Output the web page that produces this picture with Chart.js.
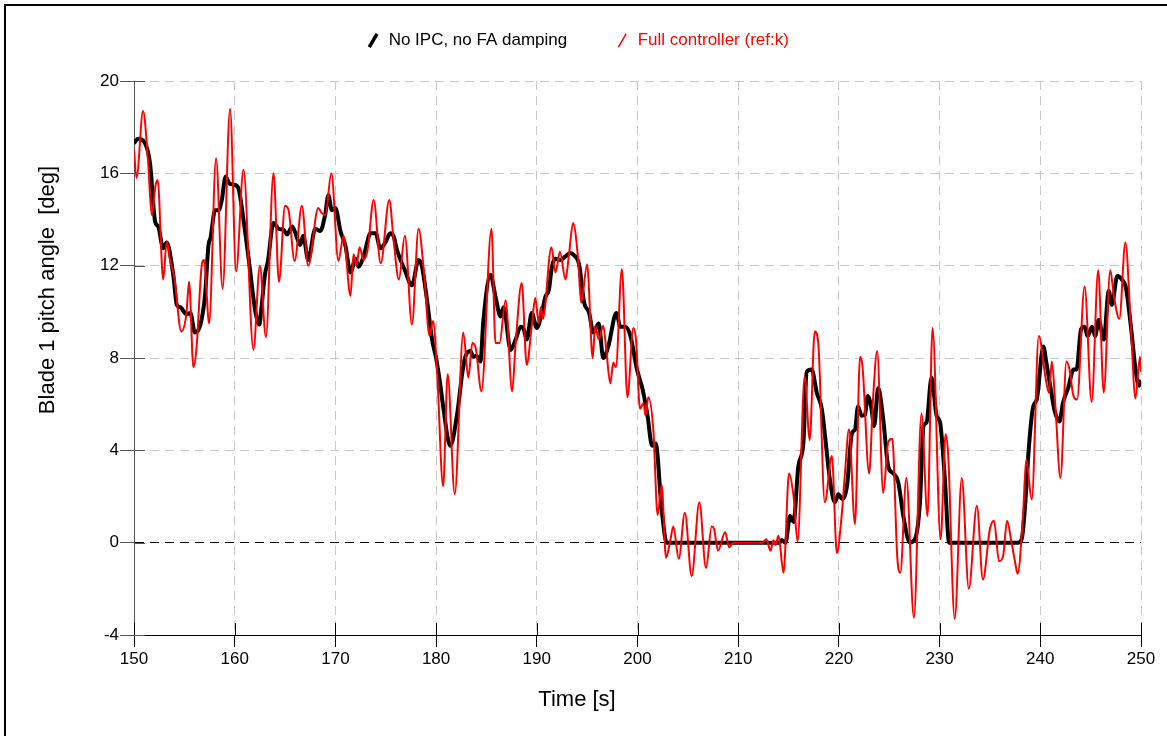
<!DOCTYPE html>
<html>
<head>
<meta charset="utf-8">
<title>Blade 1 pitch angle</title>
<script src="https://cdn.jsdelivr.net/npm/chart.js@4.4.1/dist/chart.umd.min.js"></script>
<style>
    html, body { margin: 0; padding: 0; background: #fff; }
    #wrap { width: 1167px; height: 736px; position: relative; }
</style>
</head>
<body>
<div id="wrap"><canvas id="pitchChart"></canvas></div>
<script>
// series (time in s, pitch in deg)
const blackTime = [150.0, 150.4, 151.2, 151.6, 152.1, 152.4, 152.9, 153.25, 153.9, 154.25, 154.6, 155.2, 155.6, 156.05, 156.6, 157.05, 157.4, 157.6, 158.05, 158.4, 158.7, 159.1, 159.5, 160.0, 160.4, 160.9, 161.5, 162.0, 162.45, 162.65, 163.0, 163.3, 163.85, 164.35, 164.85, 165.2, 165.7, 166.0, 166.5, 166.8, 167.3, 168.0, 168.5, 169.0, 169.3, 169.65, 170.0, 170.5, 171.0, 171.5, 172.0, 172.3, 172.8, 173.5, 174.0, 174.45, 174.95, 175.45, 175.8, 176.1, 176.9, 177.6, 178.26, 178.6, 179.1, 179.6, 180.0, 180.4, 180.7, 181.4, 182.1, 182.6, 182.9, 183.4, 183.7, 184.0, 184.4, 184.7, 185.4, 185.9, 186.4, 186.7, 187.4, 187.9, 188.4, 188.7, 189.0, 189.5, 190.0, 190.5, 190.85, 191.2, 191.5, 191.85, 192.35, 192.85, 193.3, 193.7, 194.2, 194.7, 195.2, 195.6, 196.15, 196.6, 197.1, 197.9, 198.3, 198.8, 199.3, 199.95, 200.5, 201.0, 201.45, 201.8, 202.4, 202.9, 214.1, 214.3, 214.7, 215.15, 215.5, 215.97, 216.47, 216.8, 217.3, 217.8, 218.3, 218.8, 219.1, 219.6, 219.95, 220.3, 220.8, 221.3, 221.6, 221.9, 222.25, 222.6, 222.85, 223.2, 223.5, 223.9, 224.4, 224.9, 225.4, 225.9, 226.4, 227.05, 227.55, 228.05, 228.4, 228.7, 229.2, 229.7, 230.05, 230.5, 230.95, 237.8, 238.15, 238.65, 238.8, 239.3, 239.65, 240.3, 240.6, 241.1, 241.4, 241.9, 242.25, 242.8, 243.3, 243.6, 244.05, 244.4, 244.7, 245.15, 245.45, 245.8, 246.3, 246.8, 247.1, 247.65, 248.1, 248.5, 249.0, 249.5, 249.8, 250.0];
const blackPitch = [17.3, 17.5, 17.2, 16.4, 13.9, 13.7, 12.75, 13.0, 11.6, 10.3, 10.2, 9.9, 9.95, 9.1, 9.45, 10.7, 12.9, 13.2, 14.4, 14.4, 14.8, 15.85, 15.55, 15.5, 15.3, 13.9, 11.9, 10.15, 9.45, 10.15, 11.6, 12.2, 13.85, 13.6, 13.55, 13.35, 13.7, 13.45, 12.9, 13.3, 12.25, 13.6, 13.5, 14.25, 15.05, 14.4, 14.5, 13.5, 12.85, 11.7, 12.3, 11.95, 12.4, 13.4, 13.4, 12.75, 13.0, 13.4, 13.25, 12.7, 11.8, 11.15, 12.25, 11.95, 10.5, 8.8, 8.0, 6.9, 5.9, 4.2, 5.6, 7.35, 8.05, 8.3, 8.05, 8.1, 7.85, 9.65, 11.6, 10.65, 9.8, 10.2, 8.35, 8.8, 9.35, 9.25, 8.8, 9.95, 9.3, 9.95, 10.65, 10.95, 11.95, 12.3, 12.25, 12.4, 12.55, 12.45, 12.05, 10.4, 9.95, 9.1, 9.5, 8.0, 8.5, 9.95, 9.35, 9.35, 8.95, 7.5, 6.65, 5.5, 4.2, 4.3, 1.45, 0.0, 0.0, 0.12, 0.0, 1.15, 0.9, 3.3, 4.3, 7.4, 7.5, 6.5, 5.8, 3.9, 2.75, 1.75, 2.1, 1.9, 2.45, 4.75, 4.9, 5.9, 5.5, 5.55, 6.35, 5.9, 5.05, 6.7, 5.35, 3.3, 3.0, 2.6, 1.15, 0.0, 0.15, 1.75, 5.05, 5.2, 7.15, 5.5, 5.2, 2.9, 0.0, 0.0, 0.15, 2.6, 3.75, 5.9, 6.2, 8.5, 7.8, 6.5, 5.75, 5.25, 6.05, 6.75, 7.5, 7.5, 9.25, 9.35, 8.95, 9.35, 8.95, 9.65, 8.8, 10.9, 10.3, 11.55, 11.4, 11.05, 9.35, 7.35, 6.8, 7.05];

const redTime = [150.0, 150.25, 150.9, 151.4, 151.76, 152.15, 152.35, 152.9, 153.25, 153.6, 154.0, 154.7, 155.2, 155.47, 155.9, 156.2, 156.7, 156.96, 157.46, 158.15, 158.8, 159.54, 160.14, 160.87, 161.86, 162.5, 163.1, 163.85, 164.4, 165.0, 165.35, 165.95, 166.67, 167.3, 168.3, 168.6, 169.0, 169.6, 170.3, 170.8, 171.5, 171.8, 172.1, 172.4, 172.8, 173.2, 173.8, 174.5, 175.35, 175.8, 176.3, 176.9, 177.6, 178.26, 178.8, 179.35, 179.7, 180.1, 180.7, 181.15, 181.85, 182.7, 183.2, 183.6, 183.95, 184.5, 185.5, 185.9, 186.3, 186.9, 187.55, 187.9, 188.5, 189.0, 189.5, 189.85, 190.2, 190.4, 190.6, 191.45, 191.85, 192.3, 192.85, 193.2, 193.6, 194.1, 194.4, 195.0, 195.55, 195.8, 196.15, 196.6, 196.9, 197.3, 197.6, 197.85, 198.45, 199.0, 199.58, 199.85, 200.25, 200.6, 200.8, 201.07, 201.57, 202.0, 202.4, 202.83, 203.3, 203.55, 204.1, 204.7, 205.38, 206.14, 206.8, 207.37, 207.6, 208.0, 208.7, 209.1, 209.5, 212.4, 212.8, 213.2, 213.5, 213.7, 214.0, 214.5, 215.05, 215.5, 215.9, 216.6, 217.1, 217.6, 217.95, 218.6, 219.3, 219.8, 220.27, 220.6, 221.0, 221.6, 222.1, 222.35, 223.0, 223.4, 223.8, 224.4, 224.9, 225.3, 225.8, 226.1, 226.7, 227.45, 228.2, 228.8, 229.3, 230.1, 230.6, 230.85, 231.5, 232.2, 232.9, 233.7, 234.3, 235.0, 235.4, 235.9, 236.3, 236.7, 237.15, 237.5, 237.75, 238.3, 238.6, 239.15, 239.85, 240.5, 240.85, 241.15, 241.5, 242.0, 242.6, 242.9, 243.3, 243.65, 244.4, 245.1, 245.75, 246.3, 246.95, 247.3, 247.85, 248.45, 249.0, 249.45, 249.9, 250.0];
const redPitch = [17.0, 15.8, 18.7, 16.5, 14.2, 15.5, 15.7, 11.4, 13.05, 12.2, 11.5, 9.15, 9.9, 11.3, 7.6, 8.4, 11.9, 12.25, 9.5, 16.65, 11.0, 18.8, 11.75, 16.15, 8.35, 12.0, 8.9, 16.0, 11.3, 14.6, 14.4, 12.2, 14.6, 12.0, 14.5, 14.3, 14.2, 16.0, 12.2, 13.3, 10.7, 12.5, 12.0, 12.8, 12.25, 12.7, 14.85, 12.1, 14.85, 13.0, 11.4, 13.3, 9.45, 13.6, 11.7, 8.95, 9.6, 7.4, 2.45, 7.3, 2.1, 9.1, 7.15, 8.65, 8.4, 6.55, 13.6, 8.65, 8.65, 10.5, 6.55, 8.65, 11.25, 7.7, 9.4, 10.6, 9.5, 10.2, 9.7, 12.8, 11.7, 12.6, 11.4, 12.5, 13.85, 12.3, 10.4, 12.05, 8.0, 9.4, 8.8, 9.4, 8.35, 6.9, 7.8, 7.6, 11.85, 6.3, 9.3, 8.8, 5.8, 6.05, 5.5, 6.3, 4.9, 1.2, 2.5, -0.65, 0.2, 0.7, -0.7, 1.3, -1.45, 1.75, -1.1, 0.7, 0.6, -0.35, 0.45, -0.2, 0.0, 0.0, 0.15, -0.35, 0.1, -0.1, 0.3, -1.3, 3.0, 2.0, 0.05, 7.2, 4.45, 9.15, 8.65, 1.75, 3.75, -0.45, 1.15, 3.0, 4.9, 0.8, 8.05, 7.6, 3.0, 6.3, 8.3, 2.15, 4.35, 4.5, -0.65, -1.3, 2.8, -3.25, 5.6, 1.15, 9.3, 0.15, 4.7, 3.8, -3.3, 2.8, -2.0, 1.6, -1.6, 0.6, 0.95, -0.8, -0.6, 0.95, 0.0, -0.85, -1.35, 1.3, 3.6, 1.87, 8.95, 7.2, 6.5, 7.85, 5.9, 2.8, 7.85, 7.5, 6.35, 6.2, 11.1, 6.1, 11.8, 6.5, 11.8, 10.7, 9.7, 13.0, 9.3, 6.25, 8.05, 7.4];

const seriesNames = ['No IPC, no FA damping', 'Full controller (ref:k)'];
const timeTicks = [150, 160, 170, 180, 190, 200, 210, 220, 230, 240, 250];
const pitchTicks = [-4, 0, 4, 8, 12, 16, 20];
const xTitle = 'Time [s]';
const yTitle = 'Blade 1 pitch angle  [deg]';

const FONT = '"Liberation Sans", Arial, Helvetica, sans-serif';

function toPoints(times, values) {
    return times.map((t, i) => ({ x: t, y: values[i] }));
}

// frame lines, inner tick marks and the axis titles
const figureDecor = {
    id: 'figureDecor',
    beforeDraw(chart) {
        const ctx = chart.ctx;
        ctx.save();
        ctx.fillStyle = '#ffffff';
        ctx.fillRect(0, 0, chart.width, chart.height);
        ctx.fillStyle = '#000000';
        ctx.fillRect(4, 4, chart.width - 4, 2);
        ctx.fillRect(4, 4, 2, chart.height - 4);
        ctx.restore();
    },
    afterDraw(chart) {
        const { ctx, chartArea, scales } = chart;
        ctx.save();
        ctx.lineWidth = 1;
        ctx.strokeStyle = '#000';
        ctx.beginPath();
        scales.x.ticks.forEach(t => {
            const px = Math.round(scales.x.getPixelForValue(t.value)) + 0.5;
            ctx.moveTo(px, chartArea.bottom);
            ctx.lineTo(px, chartArea.bottom - 12);
        });
        ctx.stroke();
        ctx.strokeStyle = '#555';
        ctx.beginPath();
        scales.y.ticks.forEach(t => {
            const py = Math.round(scales.y.getPixelForValue(t.value)) + 0.5;
            ctx.moveTo(chartArea.left, py);
            ctx.lineTo(chartArea.left + 11, py);
        });
        ctx.stroke();

        ctx.fillStyle = '#000';
        ctx.textAlign = 'center';
        ctx.textBaseline = 'middle';
        ctx.font = '22px ' + FONT;
        ctx.fillText(xTitle, 577, 700);
        ctx.translate(48, 290);
        ctx.rotate(-Math.PI / 2);
        ctx.font = '22px ' + FONT;
        ctx.fillText(yTitle, 0, 0);
        ctx.restore();
    }
};

document.addEventListener('DOMContentLoaded', function() {
    createPitchChart();
});

function createPitchChart() {
    const ctx = document.getElementById('pitchChart').getContext('2d');
    new Chart(ctx, {
        type: 'line',
        data: {
            datasets: [{
                label: seriesNames[0],
                data: toPoints(blackTime, blackPitch),
                borderColor: '#000000',
                borderWidth: 4,
                legendWidth: 3.5,
                pointRadius: 0,
                cubicInterpolationMode: 'monotone',
                order: 2
            }, {
                label: seriesNames[1],
                data: toPoints(redTime, redPitch),
                borderColor: '#ff0000',
                borderWidth: 2,
                legendWidth: 1.5,
                pointRadius: 0,
                cubicInterpolationMode: 'monotone',
                order: 1
            }]
        },
        options: {
            responsive: true,
            maintainAspectRatio: false,
            animation: false,
            layout: { padding: { left: 14, right: 26, top: -16, bottom: 0 } },
            plugins: {
                tooltip: { enabled: false },
                legend: {
                    position: 'top',
                    labels: {
                        font: { size: 17, family: FONT },
                        color: '#000',
                        padding: 48,
                        boxWidth: 14,
                        boxHeight: 11,
                        usePointStyle: true,
                        sort: (a, b) => a.datasetIndex - b.datasetIndex,
                        generateLabels: function(chart) {
                            const items = Chart.defaults.plugins.legend.labels.generateLabels(chart);
                            items.forEach(item => {
                                const ds = chart.data.datasets[item.datasetIndex];
                                item.pointStyle = 'line';
                                item.rotation = -60;
                                item.lineWidth = ds.legendWidth;
                                item.strokeStyle = ds.borderColor;
                                item.fontColor = ds.borderColor;
                            });
                            return items;
                        }
                    }
                }
            },
            scales: {
                x: {
                    type: 'linear',
                    min: 150,
                    max: 250,
                    afterBuildTicks: scale => { scale.ticks = timeTicks.map(v => ({ value: v })); },
                    afterFit: scale => { scale.height = 101; },
                    ticks: { font: { size: 17, family: FONT }, color: '#000', padding: 2, maxRotation: 0, autoSkip: false },
                    grid: { color: '#c8c8c8', lineWidth: 1, tickColor: '#000', tickLength: 12 },
                    border: { color: '#000', width: 1, dash: [9, 6] }
                },
                y: {
                    type: 'linear',
                    min: -4,
                    max: 20,
                    afterBuildTicks: scale => { scale.ticks = pitchTicks.map(v => ({ value: v })); },
                    afterFit: scale => { scale.width = 120; },
                    ticks: { font: { size: 17, family: FONT }, color: '#000', padding: 1 },
                    grid: {
                        color: c => (c.tick && c.tick.value === 0) ? '#000' : '#c8c8c8',
                        lineWidth: 1,
                        tickColor: '#555',
                        tickLength: 14
                    },
                    border: { color: '#555', width: 1, dash: [9, 6] }
                },
                gap: {
                    type: 'linear',
                    axis: 'x',
                    position: 'top',
                    display: true,
                    ticks: { display: false },
                    grid: { display: false, drawTicks: false },
                    border: { display: false },
                    afterFit: scale => { scale.height = 22; }
                }
            }
        },
        plugins: [figureDecor]
    });
}
</script>
</body>
</html>
